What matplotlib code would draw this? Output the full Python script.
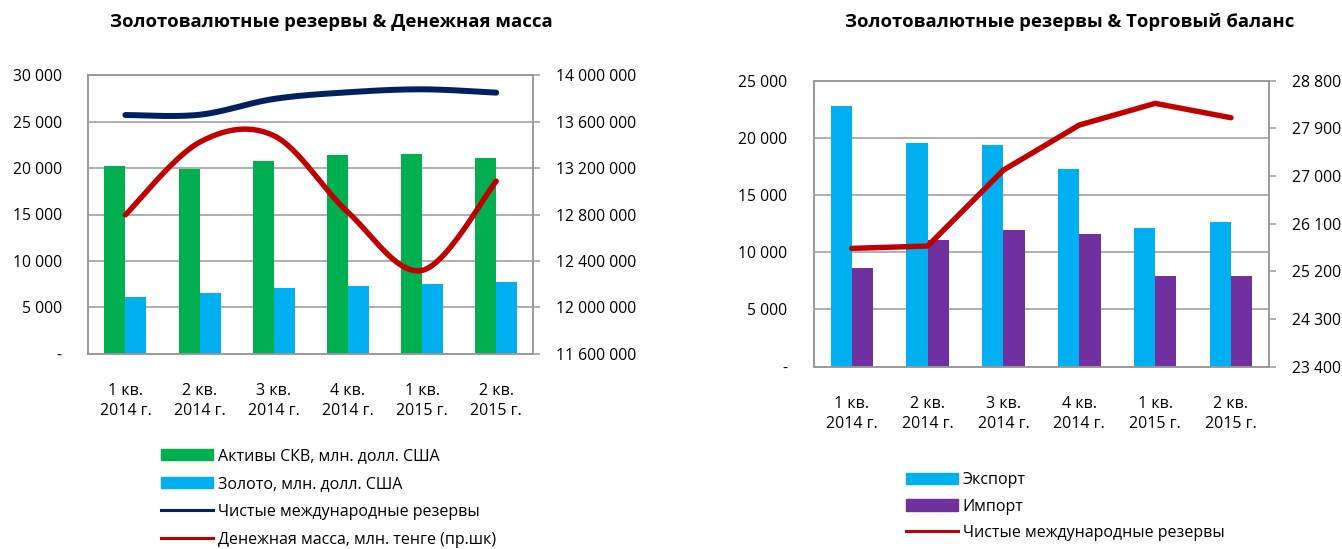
import numpy as np
import matplotlib
matplotlib.use('Agg')
import matplotlib.pyplot as plt
from matplotlib.ticker import FuncFormatter, MultipleLocator
from matplotlib.patches import Patch
from matplotlib.lines import Line2D

plt.rcParams['font.family'] = ['Open Sans', 'DejaVu Sans']

# DATA
quarters = ['1 кв.\n2014 г.', '2 кв.\n2014 г.', '3 кв.\n2014 г.',
            '4 кв.\n2014 г.', '1 кв.\n2015 г.', '2 кв.\n2015 г.']
skv_assets = [20270, 19910, 20800, 21450, 21560, 21100]
gold = [6140, 6540, 7110, 7330, 7510, 7760]
nir_left = [25720, 25750, 27450, 28170, 28490, 28130]
money_supply = [12797000, 13423000, 13480000, 12820000, 12318000, 13087000]

export = [22790, 19520, 19380, 17280, 12090, 12680]
imports = [8650, 11070, 11950, 11600, 7900, 7900]
nir_right = [25634, 25678, 27113, 27963, 28372, 28101]

GREEN = '#00B050'
CYAN = '#00B0F0'
PURPLE = '#7030A0'
RED = '#C00000'
NAVY = '#002060'
GRID = '#989898'
FS = 11.3


#EXCEL-LIKE SMOOTHED LINE (BEZIER, TENSION 1/6)
def smooth_xy(x, y, n=30):
    x = np.asarray(x, float)
    y = np.asarray(y, float)
    px = np.concatenate([[x[0]], x, [x[-1]]])
    py = np.concatenate([[y[0]], y, [y[-1]]])
    t = np.linspace(0, 1, n)
    xs, ys = [], []
    for i in range(1, len(px) - 2):
        p0 = np.array([px[i], py[i]])
        p3 = np.array([px[i + 1], py[i + 1]])
        c1 = p0 + (np.array([px[i + 1], py[i + 1]]) - np.array([px[i - 1], py[i - 1]])) / 6
        c2 = p3 - (np.array([px[i + 2], py[i + 2]]) - np.array([px[i], py[i]])) / 6
        b = (np.outer((1 - t) ** 3, p0) + np.outer(3 * (1 - t) ** 2 * t, c1)
             + np.outer(3 * (1 - t) * t ** 2, c2) + np.outer(t ** 3, p3))
        xs.extend(b[:, 0])
        ys.extend(b[:, 1])
    return np.array(xs), np.array(ys)


def fmt_num(v, pos=None):
    if abs(v) < 1e-9:
        return '-'
    return '{:,.0f}'.format(v).replace(',', ' ')


def style_axes(ax, ax2, right_pad):
    for a in (ax, ax2):
        for s in a.spines.values():
            s.set_color(GRID)
            s.set_linewidth(1.1)
    ax.grid(axis='y', color=GRID, linewidth=1.1)
    ax.set_axisbelow(True)
    ax.tick_params(axis='y', length=0, labelsize=FS, pad=19)
    ax2.tick_params(axis='y', length=5, color=GRID, width=1.1, labelsize=FS, pad=right_pad)
    ax.tick_params(axis='x', length=0, labelsize=11.5, pad=21)
    ax.yaxis.set_major_formatter(FuncFormatter(fmt_num))
    ax2.yaxis.set_major_formatter(FuncFormatter(fmt_num))
    for lbl in ax.get_xticklabels():
        lbl.set_linespacing(1.35)


fig = plt.figure(figsize=(13.42, 5.49), dpi=100)
x = np.arange(len(quarters))

# LEFT CHART
w = 0.283
ax = fig.add_axes([88.3 / 1342, 1 - 353.7 / 549, 445 / 1342, 278.4 / 549])
ax2 = ax.twinx()
ax.bar(x - w / 2, skv_assets, w, color=GREEN, zorder=2)
ax.bar(x + w / 2, gold, w, color=CYAN, zorder=2)
sx, sy = smooth_xy(x, nir_left)
ax.plot(sx, sy, color=NAVY, lw=4.3, solid_capstyle='round', zorder=3)
sx, sy = smooth_xy(x, money_supply)
ax2.plot(sx, sy, color=RED, lw=3.9, solid_capstyle='round', zorder=3)
ax.set_xlim(-0.5, 5.5)
ax.set_ylim(0, 30000)
ax.yaxis.set_major_locator(MultipleLocator(5000))
ax2.set_ylim(11600000, 14000000)
ax2.yaxis.set_major_locator(MultipleLocator(400000))
ax.set_xticks(x)
ax.set_xticklabels(quarters)
style_axes(ax, ax2, 11.5)

fig.text(331 / 1342, 1 - 22 / 549, 'Золотовалютные резервы & Денежная масса',
         ha='center', va='center', fontsize=13.3, fontweight='bold')

h_left = [Patch(color=GREEN), Patch(color=CYAN),
          Line2D([], [], color=NAVY, lw=2.2), Line2D([], [], color=RED, lw=2.2)]
l_left = ['Активы СКВ, млн. долл. США', 'Золото, млн. долл. США',
          'Чистые международные резервы', 'Денежная масса, млн. тенге (пр.шк)']
fig.legend(h_left, l_left, loc='upper left', bbox_to_anchor=(161 / 1342, 1 - 448 / 549),
           frameon=False, fontsize=11.5, handlelength=3.25, handletextpad=0.3,
           labelspacing=0.75, borderpad=0, borderaxespad=0)

# RIGHT CHART
w2 = 0.281
bx = fig.add_axes([813.9 / 1342, 1 - 366.7 / 549, 455 / 1342, 286 / 549])
bx2 = bx.twinx()
bx.bar(x - w2 / 2, export, w2, color=CYAN, zorder=2)
bx.bar(x + w2 / 2, imports, w2, color=PURPLE, zorder=2)
bx2.plot(x, nir_right, color=RED, lw=3.9, solid_capstyle='round', zorder=3)
bx.set_xlim(-0.5, 5.5)
bx.set_ylim(0, 25000)
bx.yaxis.set_major_locator(MultipleLocator(5000))
bx2.set_ylim(23400, 28800)
bx2.yaxis.set_major_locator(MultipleLocator(900))
bx.set_xticks(x)
bx.set_xticklabels(quarters)
style_axes(bx, bx2, 11.5)

fig.text(1070 / 1342, 1 - 22 / 549, 'Золотовалютные резервы & Торговый баланс',
         ha='center', va='center', fontsize=13.3, fontweight='bold')

h_right = [Patch(color=CYAN), Patch(color=PURPLE), Line2D([], [], color=RED, lw=2.2)]
l_right = ['Экспорт', 'Импорт', 'Чистые международные резервы']
fig.legend(h_right, l_right, loc='upper left', bbox_to_anchor=(906 / 1342, 1 - 472 / 549),
           frameon=False, fontsize=11.5, handlelength=3.25, handletextpad=0.3,
           labelspacing=0.66, borderpad=0, borderaxespad=0)

fig.savefig('out.png', dpi=100)
